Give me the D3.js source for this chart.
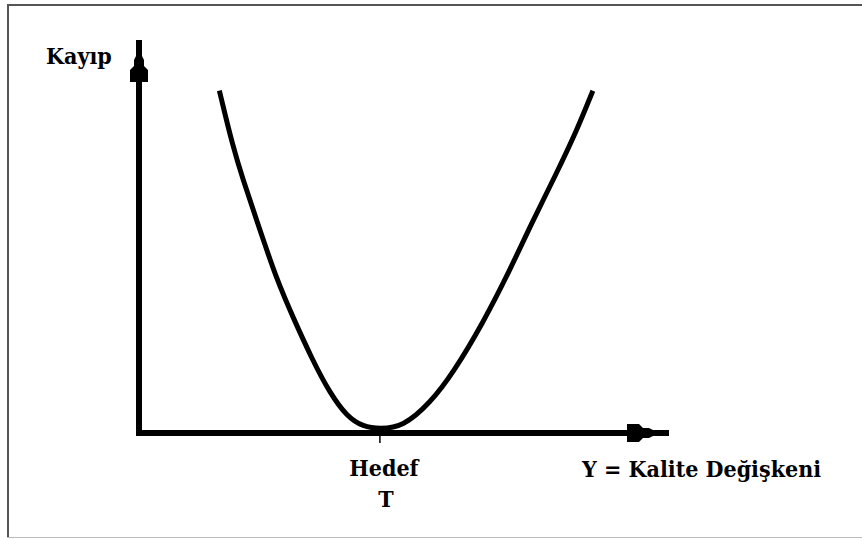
<!DOCTYPE html>
<html>
<head>
<meta charset="utf-8">
<script src="https://cdn.jsdelivr.net/npm/d3@7"></script>
<style>
  body { margin: 0; background: #fff; }
</style>
</head>
<body>
<div id="chart"></div>
<script>
// quality variable (T = 0) and loss
const quality = [-3.32, -3.05, -2.84, -2.56, -2.14, -1.78, -1.40, -1.04, -0.68, -0.35, 0,
                 0.48, 1.04, 1.52, 2.14, 2.70, 3.11, 3.67, 4.09, 4.40];
const loss = [8.65, 7.28, 6.44, 5.42, 3.89, 2.88, 1.86, 1.02, 0.41, 0.16, 0.10,
              0.16, 0.76, 1.53, 2.80, 4.15, 5.24, 6.62, 7.71, 8.65];
const target = 0;
const xLabels = ["Hedef", "T"];
const yLabel = "Kayıp";
const xAxisLabel = "Y = Kalite Değişkeni";

const width = 862, height = 539;
const serif = "'DejaVu Serif Condensed', 'DejaVu Serif', serif";

const svg = d3.select("#chart")
    .append("svg")
    .attr("width", width)
    .attr("height", height);

// frame
svg.append("line").attr("x1", 8).attr("y1", 5).attr("x2", width).attr("y2", 5)
    .attr("stroke", "#555").attr("stroke-width", 2);
svg.append("line").attr("x1", 8).attr("y1", 4).attr("x2", 8).attr("y2", 538)
    .attr("stroke", "#555").attr("stroke-width", 2);
svg.append("line").attr("x1", 7).attr("y1", 537.5).attr("x2", width).attr("y2", 537.5)
    .attr("stroke", "#bbb").attr("stroke-width", 1);

// scales
const x = d3.scaleLinear().domain([-5, 6]).range([139, 669]);
const y = d3.scaleLinear().domain([0, 10]).range([433, 40]);

// axes
svg.append("line")
    .attr("x1", x(-5)).attr("y1", y(0)).attr("x2", x(-5)).attr("y2", y(10))
    .attr("stroke", "#000").attr("stroke-width", 6);
svg.append("line")
    .attr("x1", x(-5) - 3).attr("y1", y(0)).attr("x2", x(6)).attr("y2", y(0))
    .attr("stroke", "#000").attr("stroke-width", 6);

// stepped arrow heads, pointing up (rotated for the x axis)
const head = [[-3, 0], [3, 0], [3, 16], [5, 20], [5, 26], [9, 30], [9, 42],
              [-9, 42], [-9, 30], [-5, 26], [-5, 20], [-3, 16]];
svg.append("polygon")
    .attr("points", head.map(p => p.join(",")).join(" "))
    .attr("transform", `translate(${x(-5)},${y(10)})`)
    .attr("fill", "#000");
svg.append("polygon")
    .attr("points", head.map(p => p.join(",")).join(" "))
    .attr("transform", `translate(${x(6)},${y(0)}) rotate(90)`)
    .attr("fill", "#000");

// target tick
svg.append("line")
    .attr("x1", x(target)).attr("y1", y(0)).attr("x2", x(target)).attr("y2", y(0) + 10)
    .attr("stroke", "#000").attr("stroke-width", 1.5);

// loss curve
const pts = quality.map((q, i) => [q, loss[i]]);
svg.append("path")
    .datum(pts)
    .attr("fill", "none")
    .attr("stroke", "#000")
    .attr("stroke-width", 5)
    .attr("stroke-linecap", "square")
    .attr("d", d3.line()
        .x(d => x(d[0]))
        .y(d => y(d[1]))
        .curve(d3.curveBasis));

// labels
const label = (tx, ty, str, anchor) => svg.append("text")
    .attr("x", tx).attr("y", ty)
    .attr("text-anchor", anchor)
    .attr("font-family", serif)
    .attr("font-weight", "bold")
    .attr("font-size", 23)
    .attr("fill", "#000")
    .text(str);

label(46, 64, yLabel, "start");
label(x(target) + 4, 476, xLabels[0], "middle");
label(x(target) + 6, 507, xLabels[1], "middle");
label(582, 477, xAxisLabel, "start");
</script>
</body>
</html>
